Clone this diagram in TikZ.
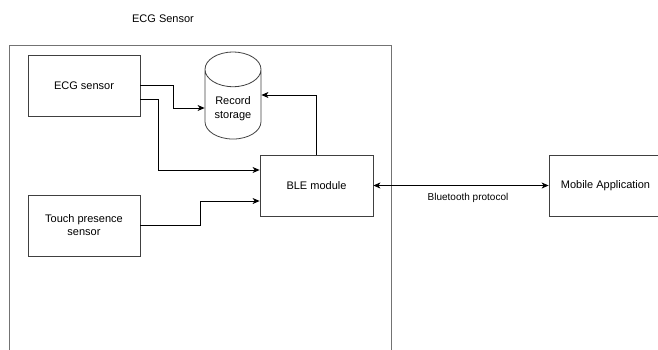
\documentclass[tikz,border=0pt]{standalone}
\usepackage{fontspec}
\setmainfont{Liberation Sans}
\usetikzlibrary{arrows.meta,shapes.geometric,positioning}

\tikzset{
	blk/.style={draw=black!75, line width=0.8pt, minimum width=112pt, minimum height=61pt, align=center, font=\fontsize{11}{13}\selectfont},
	db/.style={cylinder, shape border rotate=90, draw=black!75, line width=0.8pt, aspect=0.8, minimum width=56pt, minimum height=87pt, align=center, font=\fontsize{11}{14}\selectfont},
	flow/.style={-{Stealth[length=7pt,width=6pt,inset=2pt]}, line width=0.8pt},
}

\begin{document}
\begin{tikzpicture}[x=1pt,y=-1pt]
			\useasboundingbox (0,0) rectangle (658,349);
			\clip (0,0) rectangle (658,349);
			
			% device frame
			\draw[draw=black!55, line width=1pt] (9,45) rectangle (391,370);
			\node[font=\fontsize{11}{13}\selectfont] (dev) at (163,19) {ECG Sensor};
			
			\node[blk] (ecg) at (84,85.5) {ECG sensor};
			\node[blk] (touch) at (84,225.5) {Touch presence\\sensor};
			\node[blk, minimum width=113pt] (ble) at (316.5,185.5) {BLE module};
			\node[blk, minimum width=113pt] (app) at (605.5,185.5) {Mobile Application};
			\node[db] (rec) at (233,108.5) {Record\\storage};
			
			\draw[flow] (ecg.east) -- ++(33,0) |- ([yshift=-22.5pt]rec.180 |- ecg.east);
			\draw[flow] ([yshift=-13.5pt]ecg.east) -- ++(18,0) |- ([yshift=15.5pt]ble.west);
			\draw[flow] (touch.east) -- ++(60,0) |- ([yshift=-15.5pt]ble.west);
			\draw[flow] (ble.north) |- ([yshift=-9.5pt]rec.0 |- ecg.east);
			\draw[flow, {Stealth[length=7pt,width=6pt,inset=2pt]}-{Stealth[length=7pt,width=6pt,inset=2pt]}] (ble.east) -- node[pos=0.54, below=4pt, font=\fontsize{10}{12}\selectfont] (bt) {Bluetooth protocol} (app.west);
\end{tikzpicture}
\end{document}
